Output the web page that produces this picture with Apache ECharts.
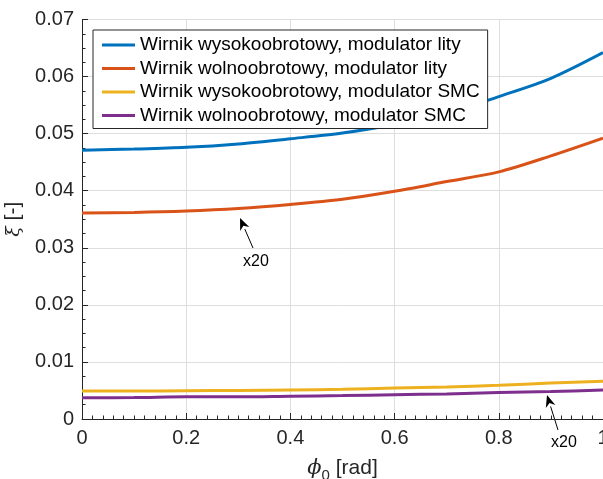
<!DOCTYPE html>
<html>
<head>
<meta charset="utf-8">
<script src="https://cdn.jsdelivr.net/npm/echarts@6/dist/echarts.min.js"></script>
<style>
html, body { margin: 0; padding: 0; background: #fff; }
#chart { width: 603px; height: 479px; }
</style>
</head>
<body>
<div id="chart"></div>
<script>
// kąt phi_0 [rad]
var phi = [0, 0.1, 0.2, 0.3, 0.4, 0.5, 0.6, 0.7, 0.8, 0.9, 1.0];

var seriesNames = [
	'Wirnik wysokoobrotowy, modulator lity',
	'Wirnik wolnoobrotowy, modulator lity',
	'Wirnik wysokoobrotowy, modulator SMC',
	'Wirnik wolnoobrotowy, modulator SMC'
];

var wysokoLity = [0.0471, 0.0473, 0.0476, 0.0482, 0.0491, 0.0501, 0.0516, 0.0535, 0.0565, 0.0597, 0.0642];
var wolnoLity  = [0.0361, 0.0362, 0.03645, 0.0369, 0.0376, 0.0385, 0.0399, 0.0416, 0.0433, 0.0461, 0.0492];
var wysokoSMC  = [0.0049, 0.0049, 0.00496, 0.0050, 0.0051, 0.0052, 0.00543, 0.0056, 0.0059, 0.0063, 0.0066];
var wolnoSMC   = [0.00373, 0.00375, 0.0039, 0.0039, 0.0040, 0.0041, 0.00426, 0.0044, 0.00465, 0.0048, 0.0051];

var colors = ['#0072BD', '#D95319', '#EDB120', '#7E2F8E'];

function pairs(ys) {
	var out = [];
	for (var i = 0; i < phi.length; i++) {
		out.push([phi[i], ys[i]]);
	}
	return out;
}

var myChart = echarts.init(document.getElementById('chart'));

var axisColor = '#262626';
var gridColor = '#dedede';
var font = 'Liberation Sans, Arial, sans-serif';

// strzałka z podpisem "x20"
function arrow(tail, tip, text, textPos) {
	var dx = tip[0] - tail[0], dy = tip[1] - tail[1];
	var len = Math.sqrt(dx * dx + dy * dy);
	var ux = dx / len, uy = dy / len;
	var hl = 12, hw = 5;
	var bx = tip[0] - ux * hl, by = tip[1] - uy * hl;
	return [
		{
			type: 'line',
			shape: { x1: tail[0], y1: tail[1], x2: bx, y2: by },
			style: { stroke: '#000', lineWidth: 1 }
		},
		{
			type: 'polygon',
			shape: { points: [tip, [bx - uy * hw, by + ux * hw], [tip[0] - ux * hl * 0.7, tip[1] - uy * hl * 0.7], [bx + uy * hw, by - ux * hw]] },
			style: { fill: '#000' }
		},
		{
			type: 'text',
			x: textPos[0], y: textPos[1],
			style: { text: text, fill: '#000', font: '16px "Liberation Sans", Arial, sans-serif', align: 'center', verticalAlign: 'middle' }
		}
	];
}

function lineSeries(i, ys) {
	return {
		name: seriesNames[i],
		type: 'line',
		data: pairs(ys),
		showSymbol: false,
		smooth: 0.3,
		lineStyle: { width: 3 }
	};
}

var option = {
	animation: false,
	backgroundColor: '#fff',
	color: colors,
	grid: { left: 82, right: 0, top: 19.5, bottom: 60, outerBoundsMode: 'none' },
	legend: {
		orient: 'vertical',
		left: 93,
		top: 30,
		padding: [4, 8, 2, 9],
		itemGap: 1.5,
		itemWidth: 33,
		itemHeight: 3,
		icon: 'rect',
		backgroundColor: '#fff',
		borderColor: '#262626',
		borderWidth: 1,
		borderRadius: 0,
		textStyle: {
			fontFamily: font,
			fontSize: 19,
			color: '#000',
			lineHeight: 22
		},
		data: seriesNames
	},
	xAxis: {
		type: 'value',
		min: 0, max: 1, interval: 0.2,
		name: '{phi|ϕ}{sub|0} [rad]',
		nameLocation: 'middle',
		nameGap: 35,
		nameTextStyle: {
			fontFamily: font,
			fontSize: 21,
			color: axisColor,
			rich: {
				phi: { fontFamily: 'DejaVu Serif, serif', fontStyle: 'italic', fontSize: 21, color: axisColor },
				sub: { fontFamily: font, fontSize: 15, color: axisColor, verticalAlign: 'bottom', padding: [14, 0, 0, 0] }
			}
		},
		axisLine: { show: true, lineStyle: { color: axisColor, width: 1 } },
		axisTick: { show: true, inside: true, length: 6, lineStyle: { color: axisColor } },
		minorTick: { show: true, splitNumber: 10, length: 3.5, lineStyle: { color: axisColor } },
		axisLabel: {
			fontFamily: font,
			fontSize: 20,
			color: axisColor,
			margin: 9,
			showMaxLabel: true
		},
		splitLine: { show: true, lineStyle: { color: gridColor, width: 1 } }
	},
	yAxis: {
		type: 'value',
		min: 0, max: 0.07, interval: 0.01,
		name: '{xi|ξ} [-]',
		nameLocation: 'middle',
		nameGap: 46,
		nameRotate: 90,
		nameTextStyle: {
			fontFamily: font,
			fontSize: 21,
			color: axisColor,
			rich: {
				xi: { fontFamily: 'DejaVu Serif, serif', fontStyle: 'italic', fontSize: 19, color: axisColor }
			}
		},
		axisLine: { show: true, lineStyle: { color: axisColor, width: 1 } },
		axisTick: { show: true, inside: true, length: 6, lineStyle: { color: axisColor } },
		minorTick: { show: true, splitNumber: 4, length: 3.5, lineStyle: { color: axisColor } },
		axisLabel: {
			fontFamily: font,
			fontSize: 20,
			color: axisColor,
			margin: 8,
			formatter: function (v) { return v === 0 ? '0' : v.toFixed(2); }
		},
		splitLine: { show: true, lineStyle: { color: gridColor, width: 1 } }
	},
	series: [
		lineSeries(0, wysokoLity),
		lineSeries(1, wolnoLity),
		lineSeries(2, wysokoSMC),
		lineSeries(3, wolnoSMC)
	],
	graphic: arrow([253, 248], [240, 218], 'x20', [256, 262])
		.concat(arrow([558, 430], [547, 395], 'x20', [564, 443]))
};

myChart.setOption(option);
</script>
</body>
</html>
